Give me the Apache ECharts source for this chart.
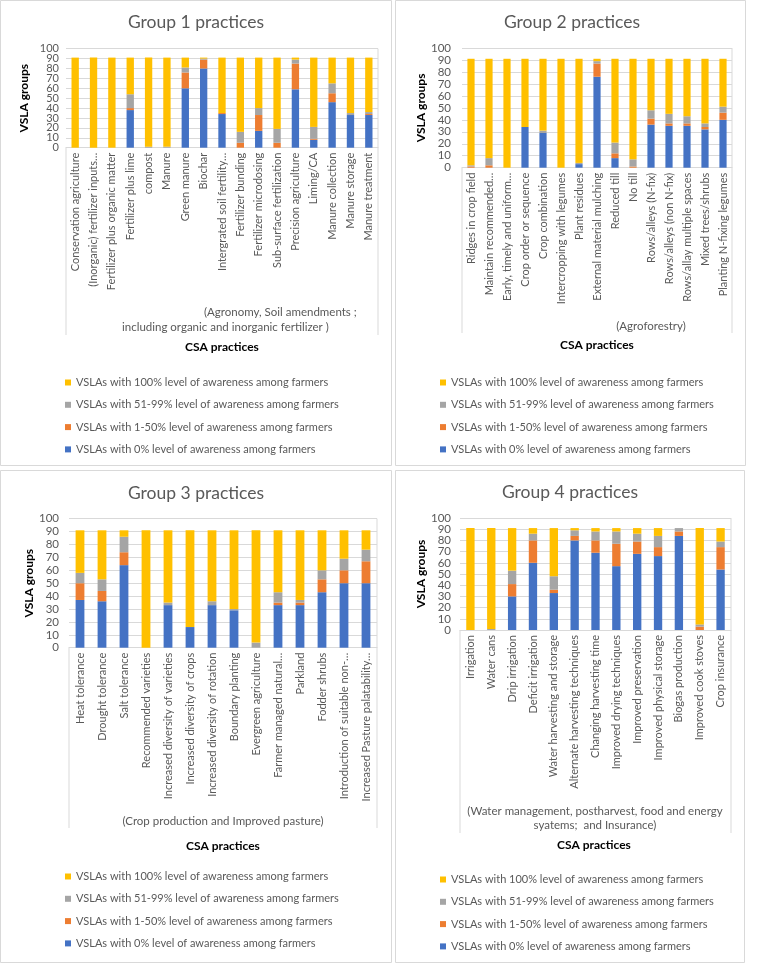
<!DOCTYPE html>
<html>
<head>
<meta charset="utf-8">
<script src="https://cdn.jsdelivr.net/npm/echarts@6/dist/echarts.min.js"></script>
<style>
html,body{margin:0;padding:0;background:#fff;}
#c{width:760px;height:965px;}
</style>
</head>
<body>
<div id="c"></div>
<script>
// ---------- DATA ----------
const legendNames = [
  'VSLAs with 100% level of awareness among farmers',
  'VSLAs with 51-99% level of awareness among farmers',
  'VSLAs with 1-50% level of awareness among farmers',
  'VSLAs with 0% level of awareness among farmers'
];
const yTicks = [0,10,20,30,40,50,60,70,80,90,100];

const g1Categories = ['Conservation agriculture','(Inorganic) fertilizer inputs…','Fertilizer plus organic matter','Fertilizer plus lime','compost','Manure','Green manure','Biochar','Intergrated soil fertility…','Fertilizer bunding','Fertilizer microdosing','Sub-surface fertilization','Precision agriculture','Liming/CA','Manure collection','Manure storage','Manure treatment'];
const g1Zero = [0,0,0,38,0,0,60,80,34,0,17,0,59,8,46,33,33];
const g1Low  = [0,0,0,2,0,0,16,9,1,5,16,5,26,1,9,0,1];
const g1Mid  = [0,0,0,14,1,1,5,1,0,11,7,14,4,12,10,2,2];
const g1Full = [91,91,91,37,90,90,10,1,56,75,51,72,2,70,26,56,55];

const g2Categories = ['Ridges in crop field','Maintain recommended…','Early, timely and uniform…','Crop order or sequence','Crop combination','Intercropping with legumes','Plant residues','External material mulching','Reduced till','No till','Rows/alleys (N-fix)','Rows/alleys (non N-fix)','Rows/allay multiple spaces','Mixed trees/shrubs','Planting N-fixing legumes'];
const g2Zero = [0,0,0,34,29,0,3,76,8,0,36,35,35,32,40];
const g2Low  = [1,2,0,0,0,0,0,11,4,1,5,2,2,2,6];
const g2Mid  = [1,6,0,0,2,0,1,2,9,6,7,8,6,3,5];
const g2Full = [89,83,91,57,60,91,87,2,70,84,43,46,48,54,40];

const g3Categories = ['Heat tolerance','Drought tolerance','Salt tolerance','Recommended varieties','Increased diversity of varieties','Increased diversity of crops','Increased diversity of rotation','Boundary planting','Evergreen agriculture','Farmer managed natural…','Parkland','Fodder shrubs','Introduction of suitable non-…','Increased Pasture palatability…'];
const g3Zero = [37,36,64,0,33,16,33,29,0,33,33,43,50,50];
const g3Low  = [13,8,10,0,0,0,0,0,0,2,2,10,10,17];
const g3Mid  = [8,9,12,0,2,0,3,1,4,8,2,7,9,9];
const g3Full = [33,38,5,91,56,75,55,61,87,48,54,31,22,15];

const g4Categories = ['Irrigation','Water cans','Drip irrigation','Deficit irrigation','Water harvesting and storage','Alternate harvesting techniques','Changing harvesting time','Improved drying techniques','Improved preservation','Improved physical storage','Biogas production','Improved cook stoves','Crop insurance'];
const g4Zero = [0,0,30,60,33,80,69,57,68,66,84,0,54];
const g4Low  = [0,0,11,20,3,4,11,20,11,8,4,3,20];
const g4Mid  = [0,1,12,6,12,5,8,11,7,10,3,2,5];
const g4Full = [91,90,38,5,43,2,3,3,5,7,0,86,12];

const groupTitles = ['Group 1 practices','Group 2 practices','Group 3 practices','Group 4 practices'];

// ---------- STYLE / LAYOUT ----------
const FONT = 'Lato, "Liberation Sans", sans-serif';
const GRAY_TXT = '#595959';
const colors = {zero:'#4472C4', low:'#ED7D31', mid:'#A5A5A5', full:'#FFC000'};

const panels = [
  {x:0.5,y:0.5,w:391,h:465, grid:{left:66,top:48.7,width:312,height:99}, yLabelMargin:7, yFont:11, nameGap:36, legendLeft:60, legendTop:370.5, cats:g1Categories, data:[g1Zero,g1Low,g1Mid,g1Full], titleX:196, titleY:22, plotBottom:335},
  {x:395.5,y:0.5,w:350,h:465, grid:{left:462,top:48,width:270,height:119.7}, yLabelMargin:11, yFont:11.5, nameGap:32, legendLeft:435, legendTop:370.5, cats:g2Categories, data:[g2Zero,g2Low,g2Mid,g2Full], titleX:572, titleY:22, plotBottom:333},
  {x:0.5,y:470.5,w:391,h:492, grid:{left:69,top:518.7,width:308,height:129}, yLabelMargin:10, yFont:11.5, nameGap:34, legendLeft:60, legendTop:864.5, cats:g3Categories, data:[g3Zero,g3Low,g3Mid,g3Full], titleX:196, titleY:493, plotBottom:828},
  {x:395.5,y:470.5,w:349,h:492, grid:{left:460,top:518,width:271,height:112}, yLabelMargin:9, yFont:11.5, nameGap:31, legendLeft:435, legendTop:867.5, cats:g4Categories, data:[g4Zero,g4Low,g4Mid,g4Full], titleX:570, titleY:492, plotBottom:833}
];

const notes = [
  {text:'(Agronomy, Soil amendments ;', x:204, y:312, align:'left'},
  {text:'including organic and inorganic fertilizer )', x:122, y:327, align:'left'},
  {text:'(Agroforestry)', x:651, y:326, align:'center'},
  {text:'(Crop production and Improved pasture)', x:223, y:821, align:'center'},
  {text:'(Water management, postharvest, food and energy', x:595, y:811, align:'center'},
  {text:'syatems;  and Insurance)', x:595, y:825, align:'center'}
];
const csaLabels = [{x:222,y:347},{x:597,y:345},{x:223,y:846},{x:594,y:845}];

// ---------- BUILD OPTION ----------
const grids=[], xAxes=[], yAxes=[], series=[], legends=[], graphics=[];
const evenTicks = yTicks.filter((v,k)=>k%2===0);
const oddTicks  = yTicks.filter((v,k)=>k%2===1);

panels.forEach(p=>{
  graphics.push({type:'rect', z:-10, silent:true, shape:{x:p.x,y:p.y,width:p.w,height:p.h}, style:{fill:'#fff', stroke:'#d9d9d9', lineWidth:1}});
});

panels.forEach((p,i)=>{
  grids.push(Object.assign({containLabel:false}, p.grid));
  xAxes.push({
    type:'category', gridIndex:i, data:p.cats,
    axisLine:{lineStyle:{color:'#d9d9d9'}}, axisTick:{show:false},
    axisLabel:{rotate:90, interval:0, fontSize:11, color:GRAY_TXT, fontFamily:FONT, margin:5, hideOverlap:false}
  });
  const baseY = {
    type:'value', gridIndex:i, min:yTicks[0], max:yTicks[yTicks.length-1], interval:yTicks[1]-yTicks[0],
    axisLine:{show:false}, axisTick:{show:false}
  };
  // main axis: gridlines, even labels, name
  yAxes.push(Object.assign({}, baseY, {
    splitLine:{lineStyle:{color:'#d9d9d9'}},
    axisLabel:{customValues:evenTicks, fontSize:p.yFont, color:GRAY_TXT, fontFamily:FONT, margin:p.yLabelMargin, hideOverlap:false, showMinLabel:true, showMaxLabel:true},
    name:'VSLA groups', nameLocation:'middle', nameRotate:90, nameGap:p.nameGap,
    nameTextStyle:{fontSize:12, fontWeight:'bold', color:'#000', fontFamily:FONT}
  }));
  // companion axis on same grid: odd labels only
  yAxes.push(Object.assign({}, baseY, {
    position:'left', offset:0, splitLine:{show:false},
    axisLabel:{customValues:oddTicks, fontSize:p.yFont, color:GRAY_TXT, fontFamily:FONT, margin:p.yLabelMargin, hideOverlap:false, showMinLabel:true, showMaxLabel:true}
  }));
  const keys=['zero','low','mid','full'];
  const names=[legendNames[3],legendNames[2],legendNames[1],legendNames[0]];
  keys.forEach((k,j)=>{
    series.push({
      type:'bar', name:names[j], xAxisIndex:i, yAxisIndex:2*i, stack:'g'+i,
      data:p.data[j], barWidth:'40%', itemStyle:{color:colors[k]},
      emphasis:{disabled:true}, animation:false
    });
  });
  legends.push({
    data:legendNames.slice(), orient:'vertical', left:p.legendLeft, top:p.legendTop,
    itemWidth:6, itemHeight:6, itemGap:8.3, icon:'rect',
    textStyle:{fontSize:11, color:GRAY_TXT, fontFamily:FONT, lineHeight:14}
  });
  graphics.push({type:'text', x:p.titleX, y:p.titleY, style:{text:groupTitles[i], fill:GRAY_TXT, font:'17.5px '+FONT, textAlign:'center', textVerticalAlign:'middle'}});
  const gl=p.grid.left, gr=p.grid.left+p.grid.width, gb=p.grid.top+p.grid.height;
  graphics.push({type:'line', silent:true, shape:{x1:gl,y1:gb,x2:gl,y2:p.plotBottom}, style:{stroke:'#d9d9d9',lineWidth:1}});
  graphics.push({type:'line', silent:true, shape:{x1:gr,y1:p.grid.top,x2:gr,y2:p.plotBottom}, style:{stroke:'#d9d9d9',lineWidth:1}});
  graphics.push({type:'text', x:csaLabels[i].x, y:csaLabels[i].y, style:{text:'CSA practices', fill:'#000', font:'bold 12px '+FONT, textAlign:'center', textVerticalAlign:'middle'}});
});
notes.forEach(n=>{
  graphics.push({type:'text', x:n.x, y:n.y, style:{text:n.text, fill:GRAY_TXT, font:'11.5px '+FONT, textAlign:n.align, textVerticalAlign:'middle'}});
});

const option = {
  animation:false,
  backgroundColor:'#fff',
  grid:grids, xAxis:xAxes, yAxis:yAxes, series:series, legend:legends,
  graphic:graphics
};
const chart = echarts.init(document.getElementById('c'), null, {renderer:'canvas'});
chart.setOption(option);
</script>
</body>
</html>
